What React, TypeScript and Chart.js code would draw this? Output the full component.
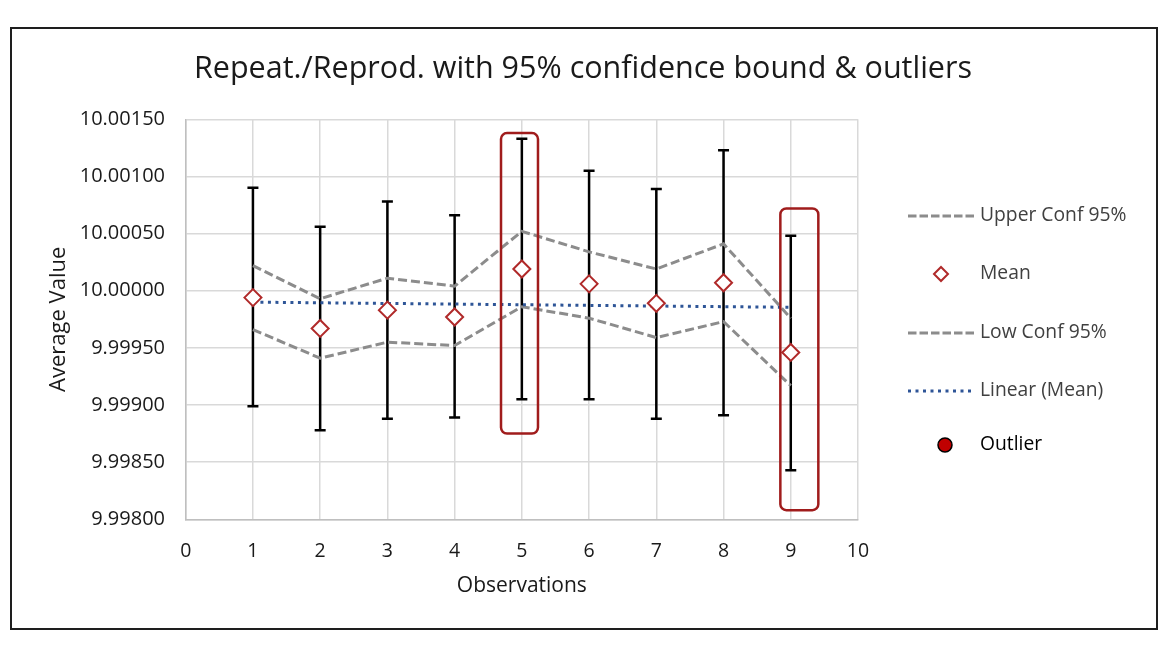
import React, { useEffect, useRef } from "react";
import { Chart, registerables } from "chart.js";

Chart.register(...registerables);

// ---------- data ----------
const observations = [1, 2, 3, 4, 5, 6, 7, 8, 9];
const meanValues = [9.99994, 9.99967, 9.99983, 9.99977, 10.00019, 10.00006, 9.99989, 10.00007, 9.99946];
const upperConf = [10.00022, 9.99993, 10.00011, 10.00004, 10.00052, 10.00034, 10.00019, 10.00041, 9.99976];
const lowConf = [9.99966, 9.99941, 9.99955, 9.99952, 9.99986, 9.99976, 9.99959, 9.99973, 9.99917];
const errHigh = [10.0009, 10.00056, 10.00078, 10.00066, 10.00133, 10.00105, 10.00089, 10.00123, 10.00048];
const errLow = [9.99899, 9.99878, 9.99888, 9.99889, 9.99905, 9.99905, 9.99888, 9.99891, 9.99843];
const trendX = [1, 9];
const trendY = [9.9999, 9.999855];
// outlier highlight boxes (data units)
const outlierBoxXMin = [4.69, 8.845];
const outlierBoxXMax = [5.24, 9.41];
const outlierBoxYMin = [9.99875, 9.99808];
const outlierBoxYMax = [10.00138, 10.00072];

const legendLabels = ["Upper Conf 95%", "Mean", "Low Conf 95%", "Linear (Mean)", "Outlier"];
const chartTitle = "Repeat./Reprod. with 95% confidence bound & outliers";
const xTitle = "Observations";
const yTitle = "Average Value";

const FONT = "'Open Sans', 'Noto Sans', sans-serif";
const GRAY = "#8c8c8c";
const RED = "#b02a2a";
const BLUE = "#2e5597";

const pts = (xs: number[], ys: number[]) => xs.map((x, i) => ({ x, y: ys[i] }));

const overlayPlugin = {
  id: "overlay",
  beforeDatasetsDraw(chart: any) {
    const { ctx, scales } = chart;
    const x = scales.x, y = scales.y;
    ctx.save();
    ctx.strokeStyle = "#000";
    ctx.lineWidth = 2.5;
    observations.forEach((o, i) => {
      const px = x.getPixelForValue(o);
      const t = y.getPixelForValue(errHigh[i]);
      const b = y.getPixelForValue(errLow[i]);
      ctx.beginPath();
      ctx.moveTo(px, t);
      ctx.lineTo(px, b);
      ctx.moveTo(px - 5.5, t);
      ctx.lineTo(px + 5.5, t);
      ctx.moveTo(px - 5.5, b);
      ctx.lineTo(px + 5.5, b);
      ctx.stroke();
    });
    ctx.restore();
  },
  afterDatasetsDraw(chart: any) {
    const { ctx, scales } = chart;
    const x = scales.x, y = scales.y;
    ctx.save();
    ctx.strokeStyle = "#a01c1c";
    ctx.lineWidth = 2.5;
    outlierBoxXMin.forEach((_, i) => {
      const l = x.getPixelForValue(outlierBoxXMin[i]);
      const r = x.getPixelForValue(outlierBoxXMax[i]);
      const t = y.getPixelForValue(outlierBoxYMax[i]);
      const b = y.getPixelForValue(outlierBoxYMin[i]);
      ctx.beginPath();
      (ctx as any).roundRect(l, t, r - l, b - t, 6);
      ctx.stroke();
    });
    ctx.restore();
  },
  afterDraw(chart: any) {
    const { ctx } = chart;
    ctx.save();
    // title
    ctx.fillStyle = "#1a1a1a";
    ctx.font = `30.5px ${FONT}`;
    ctx.textAlign = "center";
    ctx.textBaseline = "middle";
    ctx.fillText(chartTitle, 583, 69);

    // legend
    const lx0 = 908, lx1 = 974, tx = 980;
    const rows = [216, 274, 333, 391, 445];
    ctx.textAlign = "left";
    ctx.font = `19.3px ${FONT}`;
    rows.forEach((ry, i) => {
      ctx.fillStyle = i === 4 ? "#000" : "#404040";
      ctx.fillText(legendLabels[i], tx, ry);
    });
    // dashed samples
    ctx.lineWidth = 3;
    ctx.strokeStyle = GRAY;
    ctx.setLineDash([8.5, 3]);
    [rows[0], rows[2]].forEach((ry) => {
      ctx.beginPath();
      ctx.moveTo(lx0, ry);
      ctx.lineTo(lx1, ry);
      ctx.stroke();
    });
    // dotted sample
    ctx.strokeStyle = BLUE;
    ctx.setLineDash([3, 4.5]);
    ctx.beginPath();
    ctx.moveTo(lx0, rows[3]);
    ctx.lineTo(lx1, rows[3]);
    ctx.stroke();
    ctx.setLineDash([]);
    // diamond
    const dx = 941, dy = rows[1], dr = 7;
    ctx.beginPath();
    ctx.moveTo(dx - dr, dy);
    ctx.lineTo(dx, dy - dr);
    ctx.lineTo(dx + dr, dy);
    ctx.lineTo(dx, dy + dr);
    ctx.closePath();
    ctx.fillStyle = "#fff";
    ctx.fill();
    ctx.strokeStyle = RED;
    ctx.lineWidth = 2;
    ctx.stroke();
    // outlier circle
    ctx.beginPath();
    ctx.arc(945, rows[4], 7, 0, Math.PI * 2);
    ctx.fillStyle = "#c00000";
    ctx.fill();
    ctx.strokeStyle = "#000";
    ctx.lineWidth = 1.5;
    ctx.stroke();
    ctx.restore();
  },
};

export default function App() {
  const ref = useRef<HTMLCanvasElement | null>(null);

  useEffect(() => {
    if (!ref.current) return;
    const chart = new Chart(ref.current, {
      type: "scatter",
      data: {
        datasets: [
          {
            label: legendLabels[0],
            data: pts(observations, upperConf),
            showLine: true,
            borderColor: GRAY,
            borderWidth: 3,
            borderDash: [9, 4],
            pointRadius: 0,
            order: 2,
          },
          {
            label: legendLabels[1],
            data: pts(observations, meanValues),
            showLine: false,
            pointStyle: "rectRot",
            pointRadius: 8.5,
            pointHoverRadius: 8.5,
            pointBorderWidth: 2,
            pointBorderColor: RED,
            pointBackgroundColor: "#fff",
            borderColor: RED,
            backgroundColor: "#fff",
            order: 0,
          },
          {
            label: legendLabels[2],
            data: pts(observations, lowConf),
            showLine: true,
            borderColor: GRAY,
            borderWidth: 3,
            borderDash: [9, 4],
            pointRadius: 0,
            order: 2,
          },
          {
            label: legendLabels[3],
            data: pts(trendX, trendY),
            showLine: true,
            borderColor: BLUE,
            borderWidth: 3,
            borderDash: [3, 4.5],
            pointRadius: 0,
            order: 1,
          },
          {
            label: legendLabels[4],
            data: [],
            pointRadius: 7,
            pointBackgroundColor: "#c00000",
            pointBorderColor: "#000",
            order: 3,
          },
        ],
      },
      options: {
        responsive: false,
        animation: false,
        events: [],
        layout: { padding: { left: 0, right: 312, top: 119.3, bottom: 0 } },
        plugins: {
          legend: { display: false },
          title: { display: false },
          tooltip: { enabled: false },
        },
        scales: {
          x: {
            type: "linear",
            min: 0,
            max: 10,
            ticks: {
              stepSize: 1,
              padding: 20,
              color: "#1a1a1a",
              font: { family: FONT, size: 19.5 },
            },
            grid: { color: "#d9d9d9", lineWidth: 1.5, drawTicks: false },
            border: { color: "#bfbfbf", width: 1.5 },
            title: {
              display: true,
              text: xTitle,
              color: "#1a1a1a",
              font: { family: FONT, size: 21 },
              padding: { top: 0, bottom: 59 },
            },
            afterFit(scale: any) {
              scale.height = 138.7;
            },
          },
          y: {
            type: "linear",
            min: 9.998,
            max: 10.0015,
            ticks: {
              stepSize: 0.0005,
              padding: 20.7,
              color: "#1a1a1a",
              font: { family: FONT, size: 20 },
              callback: (v: any) => Number(v).toFixed(5),
            },
            grid: { color: "#d9d9d9", lineWidth: 1.5, drawTicks: false },
            border: { color: "#bfbfbf", width: 1.5 },
            title: {
              display: true,
              text: yTitle,
              color: "#1a1a1a",
              font: { family: FONT, size: 22 },
              padding: { top: 46, bottom: 0 },
            },
            afterFit(scale: any) {
              scale.width = 185.7;
            },
          },
        },
      },
      plugins: [overlayPlugin],
    } as any);
    return () => chart.destroy();
  }, []);

  return (
    <div style={{ position: "absolute", left: 0, top: 0, width: 1170, height: 658, background: "#fff" }}>
      <div
        style={{
          position: "absolute",
          left: 10,
          top: 27,
          width: 1148,
          height: 603,
          boxSizing: "border-box",
          border: "2px solid #1e1e1e",
        }}
      />
      <canvas
        ref={ref}
        width={1170}
        height={658}
        style={{ position: "absolute", left: 0, top: 0, width: 1170, height: 658 }}
      />
    </div>
  );
}
